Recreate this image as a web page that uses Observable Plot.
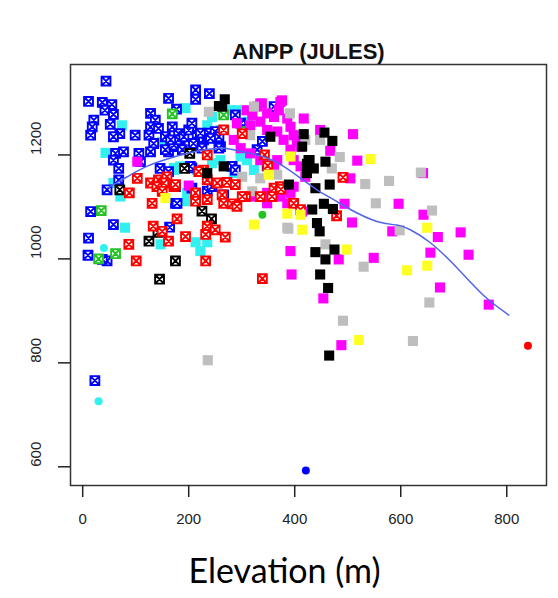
<!DOCTYPE html>
<html>
<head>
<meta charset="utf-8">
<script src="https://cdn.jsdelivr.net/npm/d3@7"></script>
<script src="https://cdn.jsdelivr.net/npm/@observablehq/plot@0.6"></script>
<style>
  html, body { margin: 0; padding: 0; background: #fff; }
</style>
</head>
<body>
<div id="chart"></div>
<script>
const titleText = "ANPP (JULES)";
const xLabelText = "Elevation (m)";
const xTicks = [0, 200, 400, 600, 800];
const yTicks = [600, 800, 1000, 1200];

// crossed squares
const blueCross = [[44,1342],[11,1303],[37,1301],[55,1297],[42,1286],[58,1278],[21,1267],[18,1254],[15,1238],[52,1259],[70,1241],[58,1235],[99,1238],[162,1309],[177,1288],[128,1280],[137,1267],[128,1254],[143,1251],[125,1238],[134,1222],[156,1235],[169,1254],[162,1206],[181,1241],[184,1222],[175,1216],[62,1203],[77,1206],[58,1190],[106,1203],[128,1206],[109,1187],[68,1174],
  [213,1325],[213,1307],[239,1318],[156,1210],[172,1219],[181,1229],[191,1235],[200,1248],[216,1238],[228,1229],[238,1242],[250,1245],[260,1216],[257,1235],[222,1216],[210,1222],[188,1210],[166,1229],
  [206,1261],[222,1242],[209,1222],[225,1213],[257,1213],[241,1232],[206,1175],
  [146,1174],[162,1168],[175,1139],[203,1178],[206,1136],[235,1130],[244,1139],[266,1123],[282,1178],[288,1171],[175,1107],[329,1210],[348,1179],[339,1226],[298,1261],[307,1248],[288,1277],[361,1293],
  [46,1133],[15,1091],[58,1066],[11,1040],[10,1007],[46,996],[37,999],[164,1061],[178,1107],[68,1152],[23,766]];
const redCross = [[88,1127],[103,1155],[128,1146],[143,1152],[172,1139],[159,1158],[131,1107],[178,1077],[133,1063],[150,1053],[162,1034],[194,1043],[87,1028],[101,996],[232,996],[339,962],[235,1200],[228,1171],[219,1168],[235,1152],[254,1146],[272,1147],[288,1143],[307,1120],[335,1120],[213,1127],[213,1111],[235,1114],[263,1123],[266,1107],[282,1106],[291,1101],[301,1120],[235,1063],[250,1056],[269,1042],[232,1047],[266,1248],[301,1241],[343,1200],[349,1179],[361,1136],[373,1139],[357,1120],[398,1107],[411,1095],[491,1157],[479,1083],[374,1134],[153,1146],[140,1139],[150,1130],[175,1143]];
const blackCross = [[70,1133],[192,1174],[202,1203],[225,1092],[243,1077],[142,1051],[125,1034],[175,996],[145,961]];
const greenCross = [[169,1279],[35,1093],[62,1010],[30,1000],[266,1277],[304,1245]];

// filled squares
const cyanSquare = [[194,1290],[74,1257],[43,1204],[150,1225],[172,1175],[244,1273],[279,1286],[291,1286],[313,1264],[235,1257],[260,1248],[247,1235],[58,1146],[71,1120],[80,1060],[197,1127],[197,1111],[213,1032],[235,1032],[222,1015],[147,1028],
  [172,1171],[184,1178],[216,1171],[244,1184],[260,1190],[279,1178],[298,1197],[310,1190],[285,1165],[323,1171]];
const magentaSquare = [[310,1286],[320,1277],[329,1293],[338,1299],[348,1280],[361,1273],[370,1286],[373,1302],[386,1270],[392,1254],[398,1238],[404,1226],[411,1216],[417,1270],[335,1264],[316,1257],[348,1248],[367,1245],[379,1229],[392,1210],[398,1190],[411,1178],[420,1158],[367,1190],[335,1190],[361,1171],[316,1203],[298,1213],[285,1229],[291,1261],[398,1139],[373,1120],[392,1127],[348,1127],[323,1120],[348,1107],[386,1107],[414,1091],[392,1015],[394,970],[200,1141],[103,1187],[376,1305],[335,1299],
  [448,1248],[510,1240],[467,1208],[518,1189],[505,1155],[642,1165],[596,1106],[643,1085],[494,1106],[508,1070],[584,1053],[670,1042],[713,1051],[656,1012],[728,1008],[549,1002],[483,999],[674,945],[454,924],[766,912],[488,834]];
const graySquare = [[323,1293],[391,1280],[316,1238],[238,1283],[301,1158],[335,1155],[367,1162],[320,1130],[386,1060],[448,1229],[420,1229],[485,1196],[533,1144],[578,1150],[638,1166],[553,1107],[659,1093],[598,1055],[388,1058],[458,1028],[530,985],[654,916],[491,881],[623,842],[470,1174],[236,805]];
const yellowSquare = [[156,1117],[351,1162],[323,1066],[392,1197],[386,1087],[411,1085],[414,1056],[543,1192],[650,1060],[650,987],[612,978],[498,1018],[521,844]];
const blackSquare = [[263,1293],[257,1294],[268,1307],[354,1235],[266,1178],[235,1165],[414,1216],[389,1143],[417,1240],[456,1243],[471,1227],[428,1190],[458,1187],[436,1174],[423,1183],[466,1143],[439,1136],[455,1106],[472,1096],[433,1095],[442,1069],[447,1053],[439,1013],[475,1018],[458,999],[448,970],[463,944],[465,814],[426,1190],[423,1165]];

// filled circles
const cyanCircle = [[40,1021],[30,726]];
const blueCircle = [[421,593]];
const redCircle = [[840,833]];
const greenCircle = [[339,1085]];

// smoothed (loess) curve
const lineX = [48, 84, 121, 166, 210, 254, 285, 316, 348, 379, 410, 442, 475, 505, 555, 593, 618, 656, 706, 757, 804];
const lineY = [1137, 1158, 1178, 1194, 1206, 1213, 1210, 1203, 1194, 1178, 1156, 1133, 1113, 1095, 1072, 1065, 1056, 1031, 983, 929, 892];
const smooth = lineX.map((x, i) => ({x, y: lineY[i]}));

const crossSq = {
  draw(c, size) {
    const h = Math.sqrt(size) / 2;
    c.moveTo(-h, -h); c.lineTo(h, -h); c.lineTo(h, h); c.lineTo(-h, h); c.closePath();
    c.moveTo(-h, -h); c.lineTo(h, h);
    c.moveTo(h, -h); c.lineTo(-h, h);
  }
};

const X = d => d[0], Y = d => d[1];
const sq = (data, color) => Plot.dot(data, {x: X, y: Y, symbol: "square", fill: color, r: 5.7});
const cx = (data, color) => Plot.dot(data, {x: X, y: Y, symbol: crossSq, stroke: color, fill: "white", strokeWidth: 1.9, r: 5});
const ci = (data, color) => Plot.dot(data, {x: X, y: Y, fill: color, r: 4});

const chart = Plot.plot({
  width: 558,
  height: 598,
  marginLeft: 70,
  marginRight: 12,
  marginTop: 64,
  marginBottom: 113,
  x: {domain: [-23, 875]},
  y: {domain: [564, 1374]},
  style: {fontFamily: "'Liberation Sans', Arial, sans-serif", background: "white"},
  marks: [
    sq(cyanSquare, "#33f0f0"),
    cx(blueCross, "#0000ff"),
    cx(greenCross, "#22c322"),
    cx(blackCross, "#000000"),
    sq(magentaSquare, "#ff00ff"),
    sq(graySquare, "#bebebe"),
    cx(redCross, "#ff0000"),
    sq(yellowSquare, "#ffff22"),
    sq(blackSquare, "#000000"),
    ci(cyanCircle, "#33f0f0"),
    ci(blueCircle, "#0000ff"),
    ci(redCircle, "#ff0000"),
    ci(greenCircle, "#22c322"),
    Plot.line(smooth, {x: "x", y: "y", curve: "natural", stroke: "#5064ee", strokeWidth: 1.5}),
    Plot.frame({stroke: "#333", strokeWidth: 1.5}),
    Plot.axisX({ticks: xTicks, tickSize: 12, tickFormat: () => "", label: null, stroke: "#222", strokeWidth: 1.5}),
    Plot.axisY({ticks: yTicks, tickSize: 12, tickFormat: () => "", label: null, stroke: "#222", strokeWidth: 1.5}),
    Plot.text(xTicks, {x: d => d, frameAnchor: "bottom", dy: 38, text: d => String(d), fontSize: 15, fill: "#222"}),
    Plot.text(yTicks, {y: d => d, frameAnchor: "left", dx: -34, rotate: -90, text: d => String(d), fontSize: 15, fill: "#222"}),
    Plot.text([titleText], {text: d => d, frameAnchor: "top", dy: -21, fontSize: 22, fontWeight: "bold", fill: "#111"}),
    Plot.text([xLabelText], {text: d => d, frameAnchor: "bottom", dy: 97, fontSize: 34, fontFamily: "Lato", fill: "#000", dx: -24})
  ]
});
document.getElementById("chart").appendChild(chart);
</script>
</body>
</html>
